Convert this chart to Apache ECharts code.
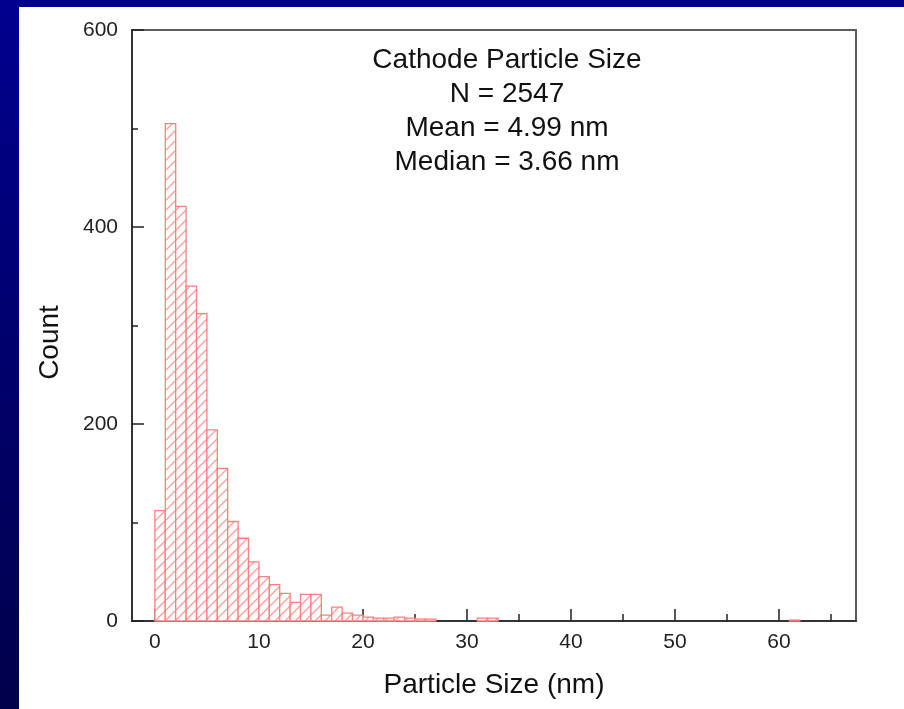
<!DOCTYPE html>
<html>
<head>
<meta charset="utf-8">
<script src="https://cdn.jsdelivr.net/npm/echarts@6/dist/echarts.min.js"></script>
<style>
html, body {
  margin: 0;
  width: 904px;
  height: 709px;
  overflow: hidden;
  background: linear-gradient(to bottom, #00008e, #00004a);
}
#chart {
  position: absolute;
  left: 19px;
  top: 7px;
  width: 885px;
  height: 702px;
  background: #fff;
}
</style>
</head>
<body>
<div id="chart"></div>
<script>
// histogram bins (left edge, nm) and counts
var binStart = [0, 1, 2, 3, 4, 5, 6, 7, 8, 9, 10, 11, 12, 13, 14, 15, 16, 17, 18, 19, 20, 21, 22, 23, 24, 25, 26, 31, 32, 61]
var binCount = [112, 505, 421, 340, 312, 194, 155, 101, 84, 60, 45, 37, 28, 19, 27, 27, 6, 14, 8, 6, 4, 3, 3, 4, 3, 2, 2, 3, 3, 1]
var binWidth = 1

var xMajor = [0, 10, 20, 30, 40, 50, 60]
var xMinor = [5, 15, 25, 35, 45, 55, 65]

var statLines = ['Cathode Particle Size', 'N = 2547', 'Mean = 4.99 nm', 'Median = 3.66 nm']

var font = '"Liberation Sans", Arial, sans-serif'

// hatch fill for the bars
var tile = document.createElement('canvas')
tile.width = 10
tile.height = 10
var ctx = tile.getContext('2d')
ctx.fillStyle = '#ffffff'
ctx.fillRect(0, 0, 10, 10)
ctx.strokeStyle = '#ff9d9d'
ctx.lineWidth = 1.3
ctx.beginPath()
ctx.moveTo(-1, 11); ctx.lineTo(11, -1)
ctx.moveTo(-6, 6); ctx.lineTo(6, -6)
ctx.moveTo(4, 16); ctx.lineTo(16, 4)
ctx.stroke()

var data = binStart.map(function (x, i) { return [x, binCount[i]] })

var myChart = echarts.init(document.getElementById('chart'))

var option = {
  animation: false,
  textStyle: {fontFamily: font},
  grid: {
    left: 113, right: 48, top: 23, bottom: 88,
    show: true,
    borderColor: '#5a5a5a',
    borderWidth: 2
  },
  xAxis: [
    {
      type: 'value',
      min: -2.2,
      max: 67.4,
      name: 'Particle Size (nm)',
      nameLocation: 'middle',
      nameGap: 50,
      nameTextStyle: {fontSize: 28, color: '#111', fontFamily: font},
      axisLine: {show: true, onZero: false, lineStyle: {color: '#333', width: 2}},
      axisTick: {show: true, inside: true, length: 12, customValues: xMajor, lineStyle: {color: '#222', width: 1.5}},
      axisLabel: {customValues: xMajor, fontSize: 21, color: '#222', margin: 11, fontFamily: font},
      splitLine: {show: false}
    },
    {
      type: 'value',
      min: -2.2,
      max: 67.4,
      position: 'bottom',
      axisLine: {show: false, onZero: false},
      axisTick: {show: true, inside: true, length: 7, customValues: xMinor, lineStyle: {color: '#222', width: 1.5}},
      axisLabel: {show: false},
      splitLine: {show: false}
    }
  ],
  yAxis: {
    type: 'value',
    min: 0,
    max: 600,
    interval: 200,
    name: 'Count',
    nameLocation: 'middle',
    nameGap: 68,
    nameTextStyle: {fontSize: 28, color: '#111', fontFamily: font, padding: [0, 34, 0, 0]},
    axisLine: {show: true, onZero: false, lineStyle: {color: '#333', width: 2}},
    axisTick: {show: true, inside: true, length: 12, lineStyle: {color: '#222', width: 1.5}},
    minorTick: {show: true, splitNumber: 2, length: 6, lineStyle: {color: '#222', width: 1.5}},
    axisLabel: {fontSize: 21, color: '#222', margin: 14, fontFamily: font},
    splitLine: {show: false}
  },
  graphic: [{
    type: 'text',
    x: 488,
    y: 36,
    style: {
      text: statLines.join('\n'),
      fontSize: 28,
      fontFamily: font,
      fill: '#111',
      align: 'center',
      verticalAlign: 'top',
      lineHeight: 34
    }
  }],
  series: [{
    type: 'custom',
    xAxisIndex: 0,
    yAxisIndex: 0,
    data: data,
    renderItem: function (params, api) {
      var x0 = api.value(0)
      var h = api.value(1)
      var p0 = api.coord([x0, h])
      var p1 = api.coord([x0 + binWidth, 0])
      return {
        type: 'rect',
        shape: {x: p0[0], y: p0[1], width: p1[0] - p0[0], height: p1[1] - p0[1]},
        style: {
          fill: {image: tile, repeat: 'repeat'},
          stroke: '#ff7f7f',
          lineWidth: 1.3
        }
      }
    }
  }]
}

myChart.setOption(option)
</script>
</body>
</html>
